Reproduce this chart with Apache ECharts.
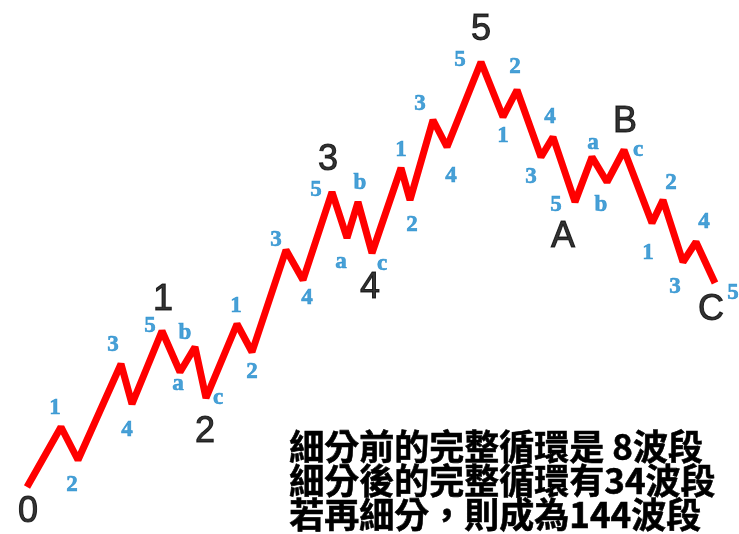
<!DOCTYPE html>
<html><head><meta charset="utf-8">
<script src="https://cdn.jsdelivr.net/npm/echarts@6/dist/echarts.min.js"></script>
<style>html,body{margin:0;padding:0;background:#fff}#c{width:739px;height:534px}</style>
</head><body><div id="c"></div>
<script>
// Elliott wave: time positions and price levels of each wave vertex
var timeX = [27,61,78,121,132,162,180,195,206,237,252,286,303,332,347,358,372,401,410,433,447,481,503,517,541,553,575,592,607,624,652,663,683,696,715];
var price = [47,107,74,170,130,203,162,187,136,210,182,284,254,342,296,332,281,366,334,414,387,472,417,444,377,397,332,377,352,384,311,334,272,292,251];
var minorLabels = ['','1','2','3','4','5','a','b','c','1','2','3','4','5','a','b','c','1','2','3','4','5','1','2','3','4','5','a','b','c','1','2','3','4','5'];
var majorLabels = ['0','','','','','1','','','2','','','','','3','','','4','','','','','5','','','','','A','','','B','','','','','C'];
var noteLines = ['細分前的完整循環是 8波段','細分後的完整循環有34波段','若再細分，則成為144波段'];

// label layout (pixel offsets from vertex)
var minorOff = [[0,0],[-6,-19],[-6,25],[-8,-19],[-5,26],[-12,-5],[-2,12],[-10,-14],[12,0],[-1,-18],[0,20],[-10,-10],[4,18],[-16,-2],[-6,24],[2,-19],[10,11],[0,-18],[2,25],[-13,-16],[4,29],[-21,-2],[0,19],[-2,-23],[-10,20],[-3,-20],[-19,3],[1,-14],[-6,23],[14,0],[-4,30],[8,-17],[-8,25],[8,-20],[18,10]];
var majorOff = {0:[1,25],5:[1,-31],8:[-1,34],13:[-4,-32],16:[-2,35],21:[0,-32],26:[-12,35],29:[1,-28],34:[-4,27]};

var lineData = timeX.map(function(x,i){return [x, price[i]];});
var minorData = [], majorData = [];
timeX.forEach(function(x,i){
  if (minorLabels[i]) minorData.push({value:[x,price[i]], label:{formatter:minorLabels[i], offset:minorOff[i]}});
  if (majorLabels[i]) majorData.push({value:[x,price[i]], label:{formatter:majorLabels[i], offset:majorOff[i]}});
});

var chart = echarts.init(document.getElementById('c'), null, {renderer:'canvas'});
chart.setOption({
  animation:false,
  grid:{left:0,right:0,top:0,bottom:0},
  xAxis:{type:'value',min:0,max:739,show:false},
  yAxis:{type:'value',min:0,max:534,show:false},
  series:[
    {type:'line',data:lineData,showSymbol:false,symbol:'none',
     lineStyle:{color:'#ff0000',width:7,join:'miter',miterLimit:2}},
    {type:'scatter',data:minorData,symbolSize:0,
     label:{show:true,position:'inside',color:'#1a88cc',fontFamily:'Liberation Serif',fontWeight:'bold',fontSize:23,
            textBorderColor:'#1a88cc',textBorderWidth:0.6}},
    {type:'scatter',data:majorData,symbolSize:0,
     label:{show:true,position:'inside',color:'#000',fontFamily:'Liberation Sans',fontSize:36,
            textBorderColor:'#000',textBorderWidth:1}}
  ],
  graphic:[{type:'text',left:289,top:429,style:{text:noteLines.join('\n'),fill:'#000',
     font:'bold 35px "Noto Sans CJK TC"',lineHeight:34,stroke:'#000',lineWidth:0.6}}]
});
</script></body></html>
